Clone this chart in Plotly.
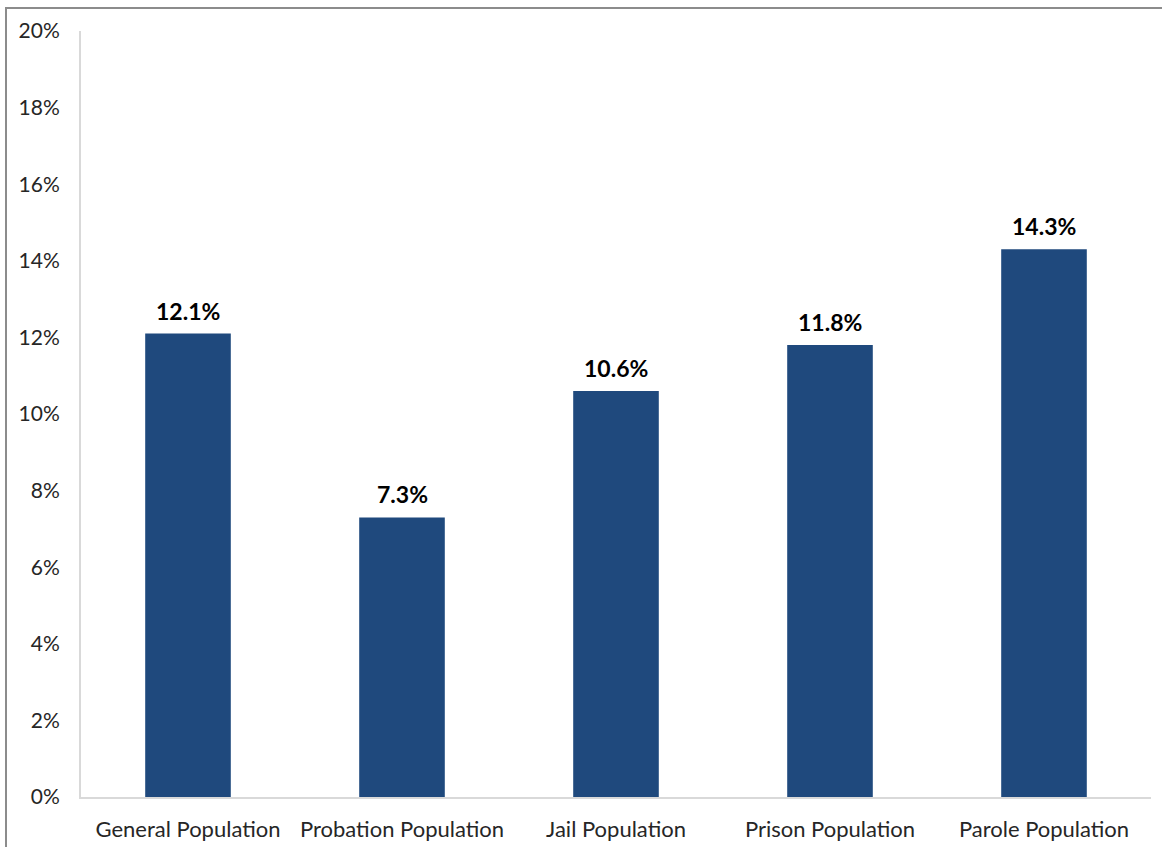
import plotly.graph_objects as go

categories = ["General Population", "Probation Population", "Jail Population",
              "Prison Population", "Parole Population"]
values = [0.121, 0.073, 0.106, 0.118, 0.143]
labels = ["12.1%", "7.3%", "10.6%", "11.8%", "14.3%"]

W, H = 1162, 847
L, R, T, B = 81, 11, 31, 50
pw, ph = W - L - R, H - T - B

fig = go.Figure(go.Bar(
    x=categories, y=values,
    marker=dict(color="#1F497D", line=dict(width=0)),
))

for c, v, t in zip(categories, values, labels):
    fig.add_annotation(x=c, y=v, text=t, showarrow=False, yanchor="bottom",
                       yshift=7,
                       font=dict(size=23, color="#000000", family="Lato", weight="bold"))

fig.update_layout(
    width=W, height=H, margin=dict(l=L, r=R, t=T, b=B, autoexpand=False),
    paper_bgcolor="white", plot_bgcolor="white",
    font=dict(family="Lato", size=22, color="#262626"),
    bargap=0.6, showlegend=False,
    xaxis=dict(showline=True, linecolor="#D9D9D9", linewidth=2, ticks="",
               ticklabelstandoff=12, showgrid=False, automargin=False),
    yaxis=dict(range=[0, 0.2], dtick=0.02, tickformat=".0%", showline=True,
               linecolor="#D9D9D9", linewidth=2, ticks="", showgrid=False,
               zeroline=False, ticklabelstandoff=15, automargin=False,
               tickfont=dict(size=21)),
    shapes=[
        dict(type="line", xref="paper", yref="paper",
             x0=(6 - L) / pw, x1=(W - L) / pw,
             y0=1 + (T - 8) / ph, y1=1 + (T - 8) / ph,
             line=dict(color="#8C8C8C", width=2)),
        dict(type="line", xref="paper", yref="paper",
             x0=(6 - L) / pw, x1=(6 - L) / pw,
             y0=1 + (T - 7) / ph, y1=-(B) / ph,
             line=dict(color="#8C8C8C", width=2)),
    ],
)

fig.write_html("out.html")
